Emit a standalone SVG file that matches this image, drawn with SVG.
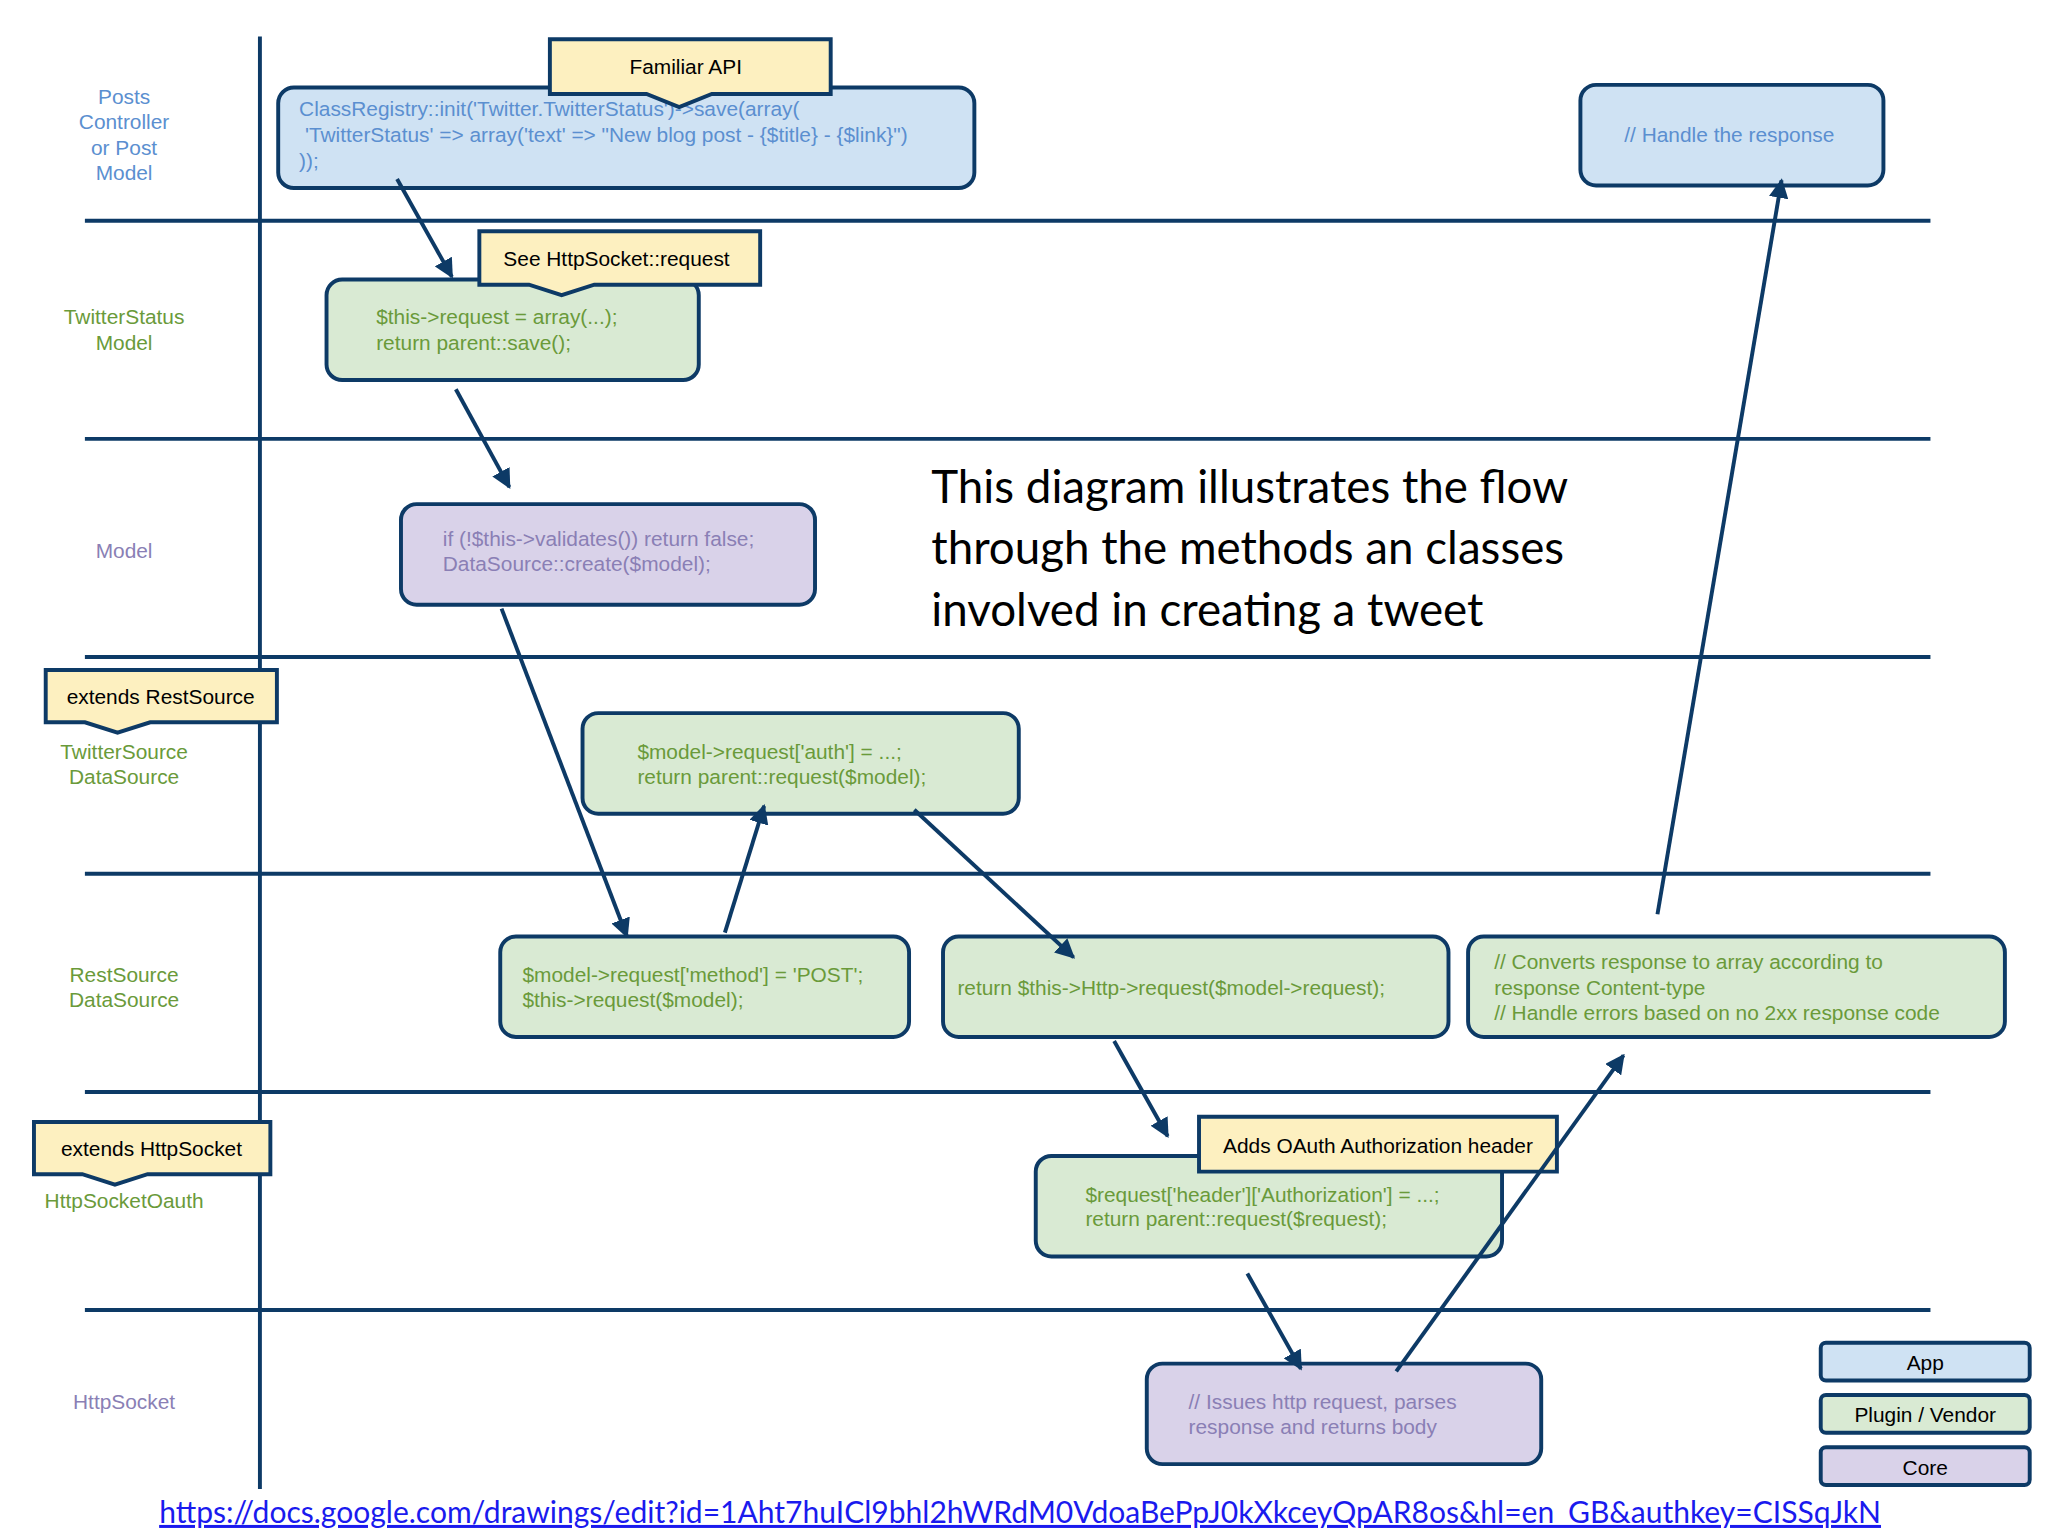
<svg xmlns="http://www.w3.org/2000/svg" width="2048" height="1536" viewBox="0 0 2048 1536">
<defs>
<style>
.ln{stroke:#0d3a66;stroke-width:3;fill:none}
.bx{stroke:#0d3a66;stroke-width:3}
.app{fill:#cfe2f3}.plg{fill:#d9ead3}.core{fill:#d9d2e9}
.co{fill:#fdf0c0;stroke:#0d3a66;stroke-width:3}
.t{font-family:"Liberation Sans",Arial,sans-serif;font-size:16px}
.tb{fill:#5b8fd0}.tg{fill:#6a9a3a}.tp{fill:#8a7fb5}.tk{fill:#000}
.lab{font-family:"Liberation Sans",Arial,sans-serif;font-size:16px;text-anchor:middle}
.ar{stroke:#0d3a66;stroke-width:3;fill:none;marker-end:url(#ah)}
</style>
<marker id="ah" viewBox="0 0 10 10" refX="9" refY="5" markerWidth="5" markerHeight="5" orient="auto" markerUnits="strokeWidth"><path d="M0,0 L10,5 L0,10 z" fill="#0d3a66"/></marker>
</defs>
<rect width="2048" height="1536" fill="#fff"/>
<g transform="scale(1.306122)">
<g id="lanes">
<line class="ln" x1="199" y1="28" x2="199" y2="1140"/>
<line class="ln" x1="65" y1="169" x2="1478" y2="169"/>
<line class="ln" x1="65" y1="336" x2="1478" y2="336"/>
<line class="ln" x1="65" y1="503" x2="1478" y2="503"/>
<line class="ln" x1="65" y1="669" x2="1478" y2="669"/>
<line class="ln" x1="65" y1="836" x2="1478" y2="836"/>
<line class="ln" x1="65" y1="1003" x2="1478" y2="1003"/>
<text class="lab tb"><tspan x="95" y="80">Posts</tspan><tspan x="95" y="99">Controller</tspan><tspan x="95" y="119">or Post</tspan><tspan x="95" y="138">Model</tspan></text>
<text class="lab tg"><tspan x="95" y="248">TwitterStatus</tspan><tspan x="95" y="268">Model</tspan></text>
<text class="lab tp" x="95" y="427">Model</text>
<text class="lab tg"><tspan x="95" y="581">TwitterSource</tspan><tspan x="95" y="600">DataSource</tspan></text>
<text class="lab tg"><tspan x="95" y="752">RestSource</tspan><tspan x="95" y="771">DataSource</tspan></text>
<text class="lab tg" x="95" y="925">HttpSocketOauth</text>
<text class="lab tp" x="95" y="1079">HttpSocket</text>
</g>
<g id="n-classregistry">
<rect class="bx app" x="213" y="67" width="533" height="77" rx="12"/>
<text class="t tb"><tspan x="229" y="89">ClassRegistry::init('Twitter.TwitterStatus')-&gt;save(array(</tspan><tspan x="229" y="109">  'TwitterStatus' =&gt; array('text' =&gt; "New blog post - {$title} - {$link}")</tspan><tspan x="229" y="129">));</tspan></text>
</g>
<g id="c-familiar">
<path class="co" d="M421,30 H636 V72 H545 L520,82 L495,72 H421 Z"/>
<text class="lab tk" x="525" y="57">Familiar API</text>
</g>
<g id="n-handle">
<rect class="bx app" x="1210" y="65" width="232" height="77" rx="12"/>
<text class="lab tb" x="1324" y="109">// Handle the response</text>
</g>
<g id="n-twitterstatus">
<rect class="bx plg" x="250" y="214" width="285" height="77" rx="12"/>
<text class="t tg"><tspan x="288" y="248">$this-&gt;request = array(...);</tspan><tspan x="288" y="268">return parent::save();</tspan></text>
</g>
<g id="c-see">
<path class="co" d="M367,177 H582 V218 H455 L430,226 L405,218 H367 Z"/>
<text class="lab tk" x="472" y="204">See HttpSocket::request</text>
</g>
<g id="n-model">
<rect class="bx core" x="307" y="386" width="317" height="77" rx="12"/>
<text class="t tp"><tspan x="339" y="418">if (!$this-&gt;validates()) return false;</tspan><tspan x="339" y="437">DataSource::create($model);</tspan></text>
</g>
<g id="title">
<text font-family="Lato,'Open Sans',sans-serif" font-size="35" fill="#000"><tspan x="713" y="385">This diagram illustrates the flow</tspan><tspan x="713" y="432">through the methods an classes</tspan><tspan x="713" y="479">involved in creating a tweet</tspan></text>
</g>
<g id="c-restsource">
<path class="co" d="M35,513 H212 V553 H115 L90,561 L65,553 H35 Z"/>
<text class="lab tk" x="123" y="539">extends RestSource</text>
</g>
<g id="n-twittersource">
<rect class="bx plg" x="446" y="546" width="334" height="77" rx="12"/>
<text class="t tg"><tspan x="488" y="581">$model-&gt;request['auth'] = ...;</tspan><tspan x="488" y="600">return parent::request($model);</tspan></text>
</g>
<g id="n-rest1">
<rect class="bx plg" x="383" y="717" width="313" height="77" rx="12"/>
<text class="t tg"><tspan x="400" y="752">$model-&gt;request['method'] = 'POST';</tspan><tspan x="400" y="771">$this-&gt;request($model);</tspan></text>
</g>
<g id="n-rest2">
<rect class="bx plg" x="722" y="717" width="387" height="77" rx="12"/>
<text class="t tg" x="733" y="762">return $this-&gt;Http-&gt;request($model-&gt;request);</text>
</g>
<g id="n-rest3">
<rect class="bx plg" x="1124" y="717" width="411" height="77" rx="12"/>
<text class="t tg"><tspan x="1144" y="742">// Converts response to array according to</tspan><tspan x="1144" y="762">response Content-type</tspan><tspan x="1144" y="781">// Handle errors based on no 2xx response code</tspan></text>
</g>
<g id="c-httpsocket">
<path class="co" d="M26,859 H207 V899 H113 L88,907 L63,899 H26 Z"/>
<text class="lab tk" x="116" y="885">extends HttpSocket</text>
</g>
<g id="n-oauth">
<rect class="bx plg" x="793" y="885" width="357" height="77" rx="12"/>
<text class="t tg"><tspan x="831" y="920">$request['header']['Authorization'] = ...;</tspan><tspan x="831" y="939">return parent::request($request);</tspan></text>
</g>
<g id="c-oauth">
<path class="co" d="M918,855 H1192 V897 H918 Z"/>
<text class="lab tk" x="1055" y="883">Adds OAuth Authorization header</text>
</g>
<g id="n-http">
<rect class="bx core" x="878" y="1044" width="302" height="77" rx="12"/>
<text class="t tp"><tspan x="910" y="1079">// Issues http request, parses</tspan><tspan x="910" y="1098">response and returns body</tspan></text>
</g>
<g id="legend">
<rect class="bx app" x="1394" y="1028" width="160" height="29" rx="4"/>
<text class="lab tk" x="1474" y="1049">App</text>
<rect class="bx plg" x="1394" y="1068" width="160" height="29" rx="4"/>
<text class="lab tk" x="1474" y="1089">Plugin / Vendor</text>
<rect class="bx core" x="1394" y="1108" width="160" height="29" rx="4"/>
<text class="lab tk" x="1474" y="1129">Core</text>
</g>
<g id="connectors">
<line class="ar" x1="304" y1="137" x2="346" y2="212"/>
<line class="ar" x1="349" y1="298" x2="390" y2="373"/>
<line class="ar" x1="384" y1="466" x2="480" y2="717"/>
<line class="ar" x1="555" y1="714" x2="585" y2="617"/>
<line class="ar" x1="700" y1="620" x2="822" y2="733"/>
<line class="ar" x1="853" y1="797" x2="894" y2="870"/>
<line class="ar" x1="955" y1="975" x2="996" y2="1048"/>
<line class="ar" x1="1069" y1="1050" x2="1243" y2="808"/>
<line class="ar" x1="1269" y1="700" x2="1364" y2="138"/>
</g>
<text x="781" y="1166" text-anchor="middle" font-family="Lato,'Open Sans',sans-serif" font-size="23" fill="#1a1aee" text-decoration="underline">https://docs.google.com/drawings/edit?id=1Aht7huICl9bhl2hWRdM0VdoaBePpJ0kXkceyQpAR8os&amp;hl=en_GB&amp;authkey=CISSqJkN</text>
</g>
</svg>
